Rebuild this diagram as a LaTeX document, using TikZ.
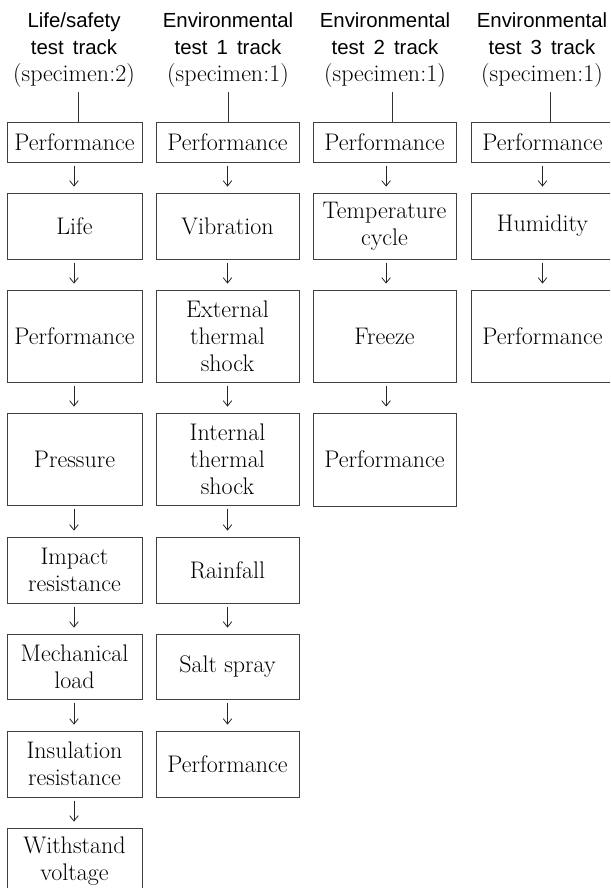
\documentclass[tikz,border=0pt]{standalone}
\usepackage{fontspec}
\setmainfont{Latin Modern Roman}
\newfontfamily\hsans{Liberation Sans}
\usetikzlibrary{arrows.meta}
\newcommand\bx[6]{%
  \node[box, minimum width={(#4-#2)*0.75pt}, minimum height={(#5-#3)*0.75pt}] (#1) at ({(#2+#4)/2},{(#3+#5)/2}) {#6};}
\newcommand\hs[1]{{\hsans\fontsize{15.3}{20.3}\selectfont #1}}
\begin{document}
\begin{tikzpicture}[x=0.75pt,y=-0.75pt,
  box/.style={draw=black!75, line width=0.6pt, inner sep=0pt, align=center,
    font=\fontsize{18}{20.3}\selectfont},
  hdr/.style={align=center, inner sep=0pt, font=\fontsize{18}{20.3}\selectfont},
  link/.style={draw=black!80, line width=0.6pt},
  arr/.style={draw=black!85, line width=0.55pt, -{Straight Barb[length=4pt,width=6.5pt,line width=0.6pt]}}]
\useasboundingbox (0,0) rectangle (610,888);
\clip (0,0) rectangle (610,888);
% headers
\node[hdr] (h1) at (74,50) {\hs{Life/safety}\\\hs{test\ \,track}\\(specimen:2)};
\node[hdr] (h2) at (228,50) {\hs{Environmental}\\\hs{test\ \,1\ \,track}\\(specimen:1)};
\node[hdr] (h3) at (385,50) {\hs{Environmental}\\\hs{test\ \,2\ \,track}\\(specimen:1)};
\node[hdr] (h4) at (542,50) {\hs{Environmental}\\\hs{test\ \,3\ \,track}\\(specimen:1)};
% column 1
\bx{a1}{7}{122}{142}{162}{Performance}
\bx{a2}{7}{193}{142}{259}{Life}
\bx{a3}{7}{290}{142}{382}{Performance}
\bx{a4}{7}{413}{142}{505}{Pressure}
\bx{a5}{7}{537}{142}{603}{Impact\\resistance}
\bx{a6}{7}{634}{142}{699}{Mechanical\\load}
\bx{a7}{7}{731}{142}{797}{Insulation\\resistance}
\bx{a8}{7}{828}{142}{894}{Withstand\\voltage}
% column 2
\bx{b1}{156}{122}{299}{162}{Performance}
\bx{b2}{156}{193}{299}{259}{Vibration}
\bx{b3}{156}{290}{299}{382}{External\\thermal\\shock}
\bx{b4}{156}{413}{299}{505}{Internal\\thermal\\shock}
\bx{b5}{156}{537}{299}{603}{Rainfall}
\bx{b6}{156}{634}{299}{699}{Salt spray}
\bx{b7}{156}{731}{299}{797}{Performance}
% column 3
\bx{c1}{313}{122}{456}{162}{Performance}
\bx{c2}{313}{193}{456}{259}{Temperature\\cycle}
\bx{c3}{313}{290}{456}{382}{Freeze}
\bx{c4}{313}{413}{456}{506}{Performance}
% column 4
\bx{d1}{471}{122}{614}{162}{Performance}
\bx{d2}{471}{193}{614}{259}{Humidity}
\bx{d3}{471}{290}{614}{382}{Performance}
% header links
\coordinate (t1) at (78,92);
\coordinate (t2) at (228,92);
\coordinate (t3) at (392,92);
\coordinate (t4) at (550,92);
\draw[link] (t1) -- (t1 |- a1.north);
\draw[link] (t2) -- (t2 |- b1.north);
\draw[link] (t3) -- (t3 |- c1.north);
\draw[link] (t4) -- (t4 |- d1.north);
% arrows
\foreach \p/\q in {a1/a2,a2/a3,a3/a4,a4/a5,a5/a6,a6/a7,a7/a8}
  \draw[arr] ([xshift=-0.4pt,yshift=-2.5pt]\p.south) -- ([xshift=-0.4pt,yshift=4.5pt]\q.north);
\foreach \p/\q in {b1/b2,b2/b3,b3/b4,b4/b5,b5/b6,b6/b7}
  \draw[arr] ([yshift=-2.5pt]\p.south) -- ([yshift=4.5pt]\q.north);
\foreach \p/\q in {c1/c2,c2/c3,c3/c4}
  \draw[arr] ([xshift=1.2pt,yshift=-2.5pt]\p.south) -- ([xshift=1.2pt,yshift=4.5pt]\q.north);
\foreach \p/\q in {d1/d2,d2/d3}
  \draw[arr] ([yshift=-2.5pt]\p.south) -- ([yshift=4.5pt]\q.north);
\end{tikzpicture}
\end{document}
